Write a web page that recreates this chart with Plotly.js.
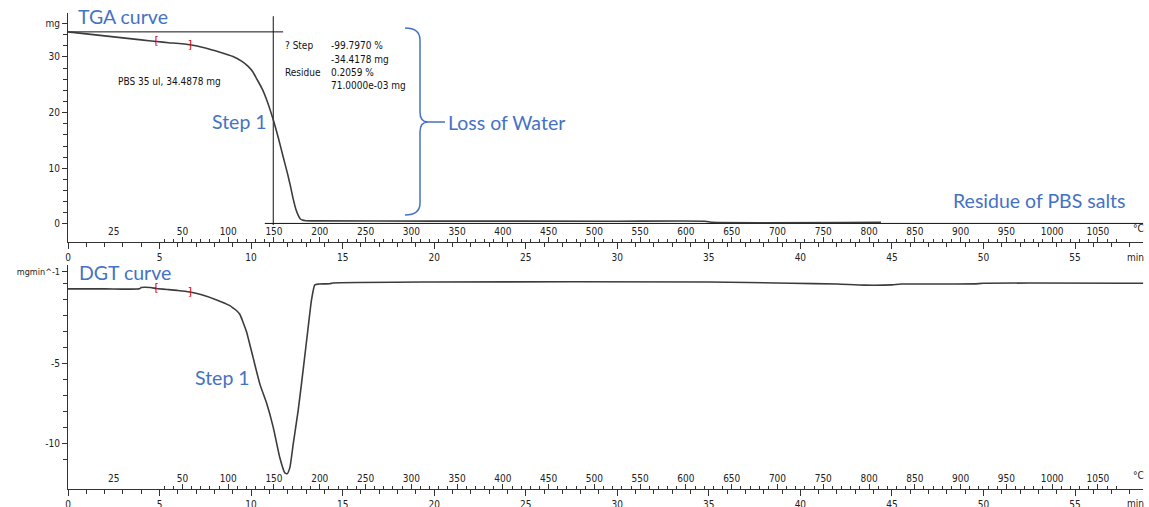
<!DOCTYPE html>
<html><head><meta charset="utf-8">
<script src="https://cdn.plot.ly/plotly-3.0.1.min.js"></script>
<style>html,body{margin:0;padding:0;background:#fff;}#chart{width:1149px;height:507px;}</style>
</head><body><div id="chart"></div>
<script>
// ---- TGA curve (time in min, mass in mg) ----
const tgaTime = [0, 1, 2, 3, 4, 4.84, 5.5, 6.66, 7.5, 8.3, 9.01, 9.5, 9.84, 10.1, 10.3, 10.6, 10.85, 11.21, 11.5, 11.74, 12.0, 12.15, 12.3, 12.45, 12.57, 12.68, 12.8, 13.0, 13.5, 20, 30, 34.8, 35.2, 44.4];
const tgaMass = [34.49, 34.13, 33.78, 33.42, 33.06, 32.76, 32.55, 32.17, 31.6, 30.84, 30.07, 29.2, 28.3, 27.3, 26.1, 24.3, 22.3, 18.7, 15.3, 12.2, 8.9, 6.8, 4.5, 2.6, 1.6, 0.95, 0.7, 0.58, 0.55, 0.52, 0.5, 0.5, 0.3, 0.3];
// ---- DTG curve (time in min, mg/min) ----
const dgtTime = [0, 2, 3.9, 4.0, 4.5, 4.84, 5.5, 6.0, 6.66, 7.3, 8.12, 8.84, 9.01, 9.2, 9.39, 9.55, 9.75, 10.10, 10.48, 10.85, 11.21, 11.57, 11.84, 11.97, 12.12, 12.30, 12.57, 12.84, 13.12, 13.30, 13.48, 13.7, 14.3, 14.47, 20, 35, 39.5, 42, 43.5, 45, 45.5, 49.5, 50, 58.73];
const dgtVal = [-0.35, -0.35, -0.35, -0.27, -0.27, -0.33, -0.4, -0.45, -0.55, -0.72, -1.04, -1.4, -1.54, -1.7, -1.95, -2.4, -3.03, -4.6, -6.3, -7.5, -9.0, -10.9, -11.84, -11.9, -11.5, -10.05, -7.96, -5.44, -2.72, -1.04, -0.1, -0.05, -0.03, 0.02, 0.08, 0.08, 0.0, -0.05, -0.12, -0.1, -0.05, -0.04, 0.0, 0.0];
// ---- evaluation limits (red brackets) ----
const limitTime = [4.84, 6.66];
const limitText = ['[', ']'];
const limitMassTGA = [32.76, 32.17];
const limitValDGT = [-0.33, -0.55];
// ---- step evaluation construction lines ----
const stepInitialMass = 34.49;
const stepInitialX = [0, 11.75];
const stepTime = 11.21;
const stepVertY = [37.3, -0.2];
const residueMass = 0.1;
const residueX = [10.75, 58.73];
// ---- tick labels ----
const timeTicks = [0, 5, 10, 15, 20, 25, 30, 35, 40, 45, 50, 55];
const tempLabels = [25, 50, 100, 150, 200, 250, 300, 350, 400, 450, 500, 550, 600, 650, 700, 750, 800, 850, 900, 950, 1000, 1050];
// heating programme: 5 min isothermal at 25 °C, then 20 K/min
const isoEnd = 5, startT = 25, rate = 20;
const tPos = T => isoEnd + (T - startT) / rate;
const tempLabelPos = tempLabels.map(T => T === startT ? isoEnd / 2 : tPos(T));
const tempMajorPos = tempLabels.filter(T => T !== startT).map(tPos);
const tempMinorPos = [];
for (let T = 30; T <= 1070; T += 10) if (T % 50 !== 0) tempMinorPos.push(tPos(T));
const timeMinor = [];
for (let t = 1; t <= 58; t++) if (t % 5 !== 0) timeMinor.push(t);

const W = 1149, H = 507;
const px = x => x / W, py = y => 1 - y / H;
const XR = [0, 58.73];
const XD = [px(68), px(1143.3)];
const AX = '#333';
const TF = {family: 'DejaVu Sans Condensed, DejaVu Sans, sans-serif', size: 10, color: '#222'};
const CURVE = '#3c3c3c';
const BLUE = '#4472C4';

function timeAxis(anchor) {
  return {domain: XD, range: XR, anchor: anchor, showline: true, linecolor: AX, linewidth: 1,
    ticks: 'outside', ticklen: 6, tickcolor: AX, tickmode: 'array', tickvals: timeTicks,
    ticktext: timeTicks.map(String), tickfont: TF, showgrid: false, zeroline: false, fixedrange: true,
    minor: {tickmode: 'array', tickvals: timeMinor, ticks: 'outside', ticklen: 4, tickcolor: AX, showgrid: false}};
}
function tempTickAxis(anchor, over) {
  return {domain: XD, range: XR, anchor: anchor, overlaying: over, showline: false, showgrid: false, zeroline: false,
    ticks: 'inside', ticklen: 5, tickcolor: AX, tickmode: 'array', tickvals: tempMajorPos, showticklabels: false,
    fixedrange: true,
    minor: {tickmode: 'array', tickvals: tempMinorPos, ticks: 'inside', ticklen: 3, tickcolor: AX, showgrid: false}};
}
function tempLabelAxis(anchor, over) {
  return {domain: XD, range: XR, anchor: anchor, overlaying: over, showline: false, showgrid: false, zeroline: false,
    ticks: 'inside', ticklen: 4, tickcolor: 'rgba(0,0,0,0)', tickmode: 'array', tickvals: tempLabelPos,
    ticktext: tempLabels.map(String), ticklabelposition: 'inside', tickfont: TF, fixedrange: true};
}

const traces = [
  {x: stepInitialX, y: [stepInitialMass, stepInitialMass], xaxis: 'x', yaxis: 'y', mode: 'lines', line: {color: '#111', width: 1}, hoverinfo: 'skip'},
  {x: [stepTime, stepTime], y: stepVertY, xaxis: 'x', yaxis: 'y', mode: 'lines', line: {color: '#111', width: 1}, hoverinfo: 'skip'},
  {x: residueX, y: [residueMass, residueMass], xaxis: 'x', yaxis: 'y', mode: 'lines', line: {color: '#111', width: 1}, hoverinfo: 'skip'},
  {x: tgaTime, y: tgaMass, xaxis: 'x', yaxis: 'y', mode: 'lines', line: {color: CURVE, width: 1.6, shape: 'spline', smoothing: 0.5}, name: 'TGA'},
  {x: limitTime, y: limitMassTGA, xaxis: 'x', yaxis: 'y', mode: 'text', text: limitText, textfont: {color: '#e00000', size: 11, family: 'DejaVu Sans'}, hoverinfo: 'skip'},
  {x: dgtTime, y: dgtVal, xaxis: 'x2', yaxis: 'y2', mode: 'lines', line: {color: CURVE, width: 1.6, shape: 'spline', smoothing: 0.5}, name: 'DTG'},
  {x: limitTime, y: limitValDGT, xaxis: 'x2', yaxis: 'y2', mode: 'text', text: limitText, textfont: {color: '#e00000', size: 11, family: 'DejaVu Sans'}, hoverinfo: 'skip'},
  {x: [null], y: [null], xaxis: 'x3', yaxis: 'y', hoverinfo: 'skip'},
  {x: [null], y: [null], xaxis: 'x4', yaxis: 'y', hoverinfo: 'skip'},
  {x: [null], y: [null], xaxis: 'x5', yaxis: 'y2', hoverinfo: 'skip'},
  {x: [null], y: [null], xaxis: 'x6', yaxis: 'y2', hoverinfo: 'skip'}
];

function ann(text, x, y, font, xanchor) {
  return {text: text, xref: 'paper', yref: 'paper', x: px(x), y: py(y), xanchor: xanchor || 'left', yanchor: 'middle', showarrow: false, font: font, align: 'left'};
}
const BF = {family: 'Lato, Open Sans, sans-serif', size: 19.5, color: BLUE};
const SF = {family: 'DejaVu Sans Condensed, DejaVu Sans, sans-serif', size: 10, color: '#111'};
const annotations = [
  ann('TGA curve', 76, 17, BF),
  ann('Step 1', 210, 121, BF),
  ann('Loss of Water', 446, 122, BF),
  ann('Residue of PBS salts', 951, 200, BF),
  ann('DGT curve', 77, 272, BF),
  ann('Step 1', 193, 377, BF),
  ann('PBS 35 ul, 34.4878 mg', 116, 81, SF),
  ann('? Step', 283, 45, SF),
  ann('-99.7970 %', 329, 45, SF),
  ann('-34.4178 mg', 329, 59, SF),
  ann('Residue', 283, 72, SF),
  ann('0.2059 %', 329, 72, SF),
  ann('71.0000e-03 mg', 329, 86, SF),
  ann('min', 1146, 257, TF, 'right'),
  ann('°C', 1146, 228, TF, 'right'),
  ann('min', 1146, 503, TF, 'right'),
  ann('°C', 1146, 475, TF, 'right')
];

const bp = [[405,28,'M'],[420,28,'Q'],[420,40,''],[420,112,'L'],[420,122,'Q'],[428,122,''],[445,122,'L'],[428,122,'M'],[420,122,'Q'],[420,132,''],[420,203,'L'],[420,215,'Q'],[405,215,'']];
const bracePath = bp.map(p => p[2] + ' ' + px(p[0]).toFixed(5) + ',' + py(p[1]).toFixed(5)).join(' ');

const layout = {
  width: W, height: H, margin: {l: 0, r: 0, t: 0, b: 0}, paper_bgcolor: '#fff', plot_bgcolor: 'rgba(0,0,0,0)',
  showlegend: false, font: TF,
  xaxis: timeAxis('y'),
  xaxis2: timeAxis('y2'),
  xaxis3: tempTickAxis('y', 'x'),
  xaxis4: tempLabelAxis('y', 'x'),
  xaxis5: tempTickAxis('y2', 'x2'),
  xaxis6: tempLabelAxis('y2', 'x2'),
  yaxis: {domain: [py(241.7), py(13)], range: [-3.18, 37.88], anchor: 'x', showline: true, linecolor: AX, linewidth: 1,
    ticks: 'outside', ticklen: 5, tickcolor: AX, tickmode: 'array', tickvals: [0, 10, 20, 30, 36],
    ticktext: ['0', '10', '20', '30', 'mg'], tickfont: TF, showgrid: false, zeroline: false, fixedrange: true,
    minor: {tickmode: 'array', tickvals: [-2, 2, 4, 6, 8, 12, 14, 16, 18, 22, 24, 26, 28, 32, 34], ticks: 'outside', ticklen: 4, tickcolor: AX, showgrid: false}},
  yaxis2: {domain: [py(489.3), py(265)], range: [-12.87, 1.14], anchor: 'x2', showline: true, linecolor: AX, linewidth: 1,
    ticks: 'outside', ticklen: 5, tickcolor: AX, tickmode: 'array', tickvals: [-10, -5, 0.72],
    ticktext: ['-10', '-5', '<span style="font-size:9px">mgmin^-1</span>'], tickfont: TF, showgrid: false, zeroline: false, fixedrange: true,
    minor: {tickmode: 'array', tickvals: [-12, -11, -9, -8, -7, -6, -4, -3, -2, -1, 0], ticks: 'outside', ticklen: 4, tickcolor: AX, showgrid: false}},
  annotations: annotations,
  shapes: [{type: 'path', xref: 'paper', yref: 'paper', path: bracePath, line: {color: BLUE, width: 1.5}}]
};
Plotly.newPlot('chart', traces, layout, {staticPlot: true, displayModeBar: false});
</script></body></html>
